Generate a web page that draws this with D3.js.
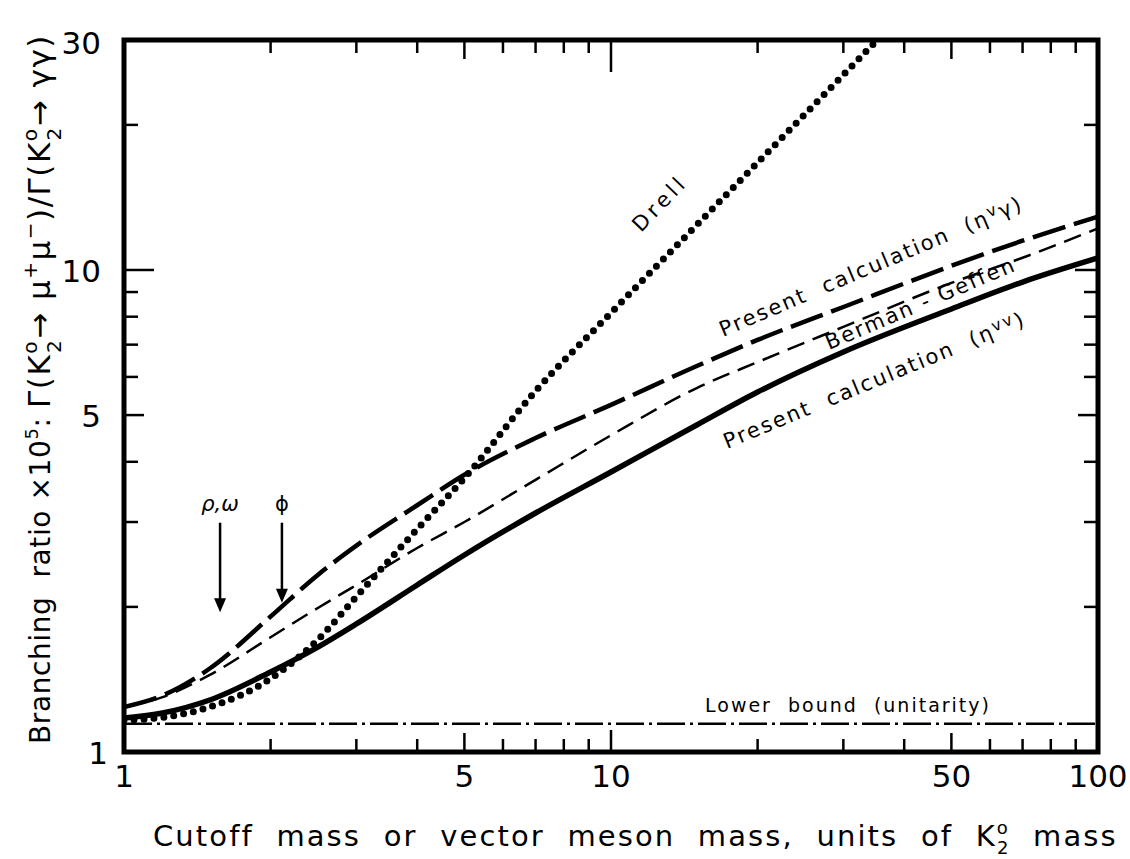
<!DOCTYPE html>
<html><head><meta charset="utf-8">
<script src="https://cdn.jsdelivr.net/npm/d3@7"></script>
<style>
body{margin:0;background:#fff;}
svg{display:block;}
text{font-family:"DejaVu Sans",sans-serif;fill:#000;white-space:pre;}
</style></head><body>
<svg id="chart" width="1130" height="859"></svg>
<script>
// ---- data ----
const massX = [1,1.2,1.5,2,2.5,3,4,5,7,10,15,20,30,50,70,100];
const presentVV     = [1.176,1.205,1.282,1.466,1.651,1.844,2.221,2.563,3.132,3.810,4.769,5.582,6.760,8.30,9.44,10.59];
const presentVGamma = [1.24,1.31,1.49,1.91,2.33,2.68,3.25,3.76,4.48,5.25,6.32,7.16,8.38,10.2,11.5,12.9];
const bermanGeffen  = [1.24,1.30,1.445,1.73,1.99,2.22,2.65,3.00,3.67,4.54,5.69,6.44,7.62,9.40,10.6,12.2];
const drellX = [1,1.2,1.5,2,2.5,3,4,5,7,10,15,20,30,35.2];
const drellY = [1.165,1.18,1.24,1.42,1.71,2.10,2.90,3.70,5.61,8.15,12.4,16.7,25.4,30];
const lowerBound = 1.145;
const xTickLabels = [1,5,10,50,100];
const yTickLabels = [1,5,10,30];
const xMinorTicks = [2,3,4,6,7,8,9,20,30,40,60,70,80,90];
const yMinorTicks = [2,3,4,6,7,8,9,20];
const mesonNames = ["ρ,ω","ϕ"];
const mesonMass  = [1.575,2.11];
const arrowTop   = [2.99,2.99];
const arrowTip   = [1.95,2.04];

// ---- layout ----
const svg = d3.select("#chart");
const L=124, R=1098, T=40, B=752;
const x = d3.scaleLog().domain([1,100]).range([L,R]);
const y = d3.scaleLog().domain([1,30]).range([B,T]);

svg.append("defs").append("clipPath").attr("id","plot")
  .append("rect").attr("x",L).attr("y",T).attr("width",R-L).attr("height",B-T);

const g = svg.append("g").attr("clip-path","url(#plot)");
const line = d3.line().x(d=>x(d[0])).y(d=>y(d[1])).curve(d3.curveMonotoneX);

// lower bound
g.append("path").datum([[1,lowerBound],[100,lowerBound]]).attr("d",line)
  .attr("fill","none").attr("stroke","#000").attr("stroke-width",2.5)
  .attr("stroke-dasharray","28 5 3 5");

// Berman-Geffen thin dashed
g.append("path").datum(massX.map((m,i)=>[m,bermanGeffen[i]])).attr("d",line)
  .attr("fill","none").attr("stroke","#000").attr("stroke-width",2.5)
  .attr("stroke-dasharray","18 9");

// present (eta v gamma) long dashed
g.append("path").datum(massX.map((m,i)=>[m,presentVGamma[i]])).attr("d",line)
  .attr("fill","none").attr("stroke","#000").attr("stroke-width",4.5)
  .attr("stroke-dasharray","34 9");

// present (eta v v) solid
g.append("path").datum(massX.map((m,i)=>[m,presentVV[i]])).attr("d",line)
  .attr("fill","none").attr("stroke","#000").attr("stroke-width",5.5)
  .attr("stroke-linecap","round");

// Drell dotted
g.append("path").datum(drellX.map((m,i)=>[m,drellY[i]])).attr("d",line)
  .attr("fill","none").attr("stroke","#000").attr("stroke-width",7)
  .attr("stroke-dasharray","0 10").attr("stroke-linecap","round");

// ---- frame ----
svg.append("rect").attr("x",L).attr("y",T).attr("width",R-L).attr("height",B-T)
  .attr("fill","none").attr("stroke","#000").attr("stroke-width",5);

// ---- ticks ----
const tk = svg.append("g").attr("stroke","#000").attr("stroke-width",2.5);
function xLen(v, side){ if(v===10) return side==="top"?32:22; if(v===5||v===50) return 19; return 13; }
function yLen(v, side){ if(v===10) return side==="left"?30:23; if(v===5) return 20; return 14; }
const xAll = xMinorTicks.concat([5,10,50]);
const yAll = yMinorTicks.concat([5,10]);
tk.selectAll(".xb").data(xAll).join("line").attr("x1",d=>x(d)).attr("x2",d=>x(d))
  .attr("y1",B).attr("y2",d=>B-xLen(d,"bottom"));
tk.selectAll(".xt").data(xAll).join("line").attr("x1",d=>x(d)).attr("x2",d=>x(d))
  .attr("y1",T).attr("y2",d=>T+xLen(d,"top"));
tk.selectAll(".yl").data(yAll).join("line").attr("y1",d=>y(d)).attr("y2",d=>y(d))
  .attr("x1",L).attr("x2",d=>L+yLen(d,"left"));
tk.selectAll(".yr").data(yAll).join("line").attr("y1",d=>y(d)).attr("y2",d=>y(d))
  .attr("x1",R).attr("x2",d=>R-yLen(d,"right"));

// ---- tick labels ----
svg.append("g").selectAll("text").data(xTickLabels).join("text")
  .attr("x",d=>x(d)).attr("y",787).attr("text-anchor","middle")
  .attr("font-size",31).text(d=>d);
svg.append("g").selectAll("text").data(yTickLabels).join("text")
  .attr("x",d=>d===1?108:101).attr("y",d=>y(d)+ (d===30?14:12)).attr("text-anchor","end")
  .attr("font-size",31).text(d=>d);

// ---- axis titles ----
const xt = svg.append("text").attr("x",153).attr("y",846).attr("font-size",29)
  .attr("letter-spacing",2.1);
xt.append("tspan").text("Cutoff  mass  or  vector  meson  mass,  units  of  K");
xt.append("tspan").attr("font-size",18).attr("dy",-12).text("o");
xt.append("tspan").attr("font-size",18).attr("dx",-13).attr("dy",20).text("2");
xt.append("tspan").attr("dy",-8).text("  mass");

const yt = svg.append("text").attr("transform","translate(50,744) rotate(-90)")
  .attr("font-size",28).attr("letter-spacing",0.6);
yt.append("tspan").text("Branching  ratio ×10");
yt.append("tspan").attr("font-size",18).attr("dy",-12).text("5");
yt.append("tspan").attr("dy",12).text(": ");
const yt2 = yt.append("tspan").attr("font-size",31).attr("letter-spacing",1.5);
yt2.append("tspan").text("Γ(K");
yt2.append("tspan").attr("font-size",20).attr("dy",-13).text("o");
yt2.append("tspan").attr("font-size",20).attr("dx",-13).attr("dy",24).text("2");
yt2.append("tspan").attr("dy",-11).text("→ μ");
yt2.append("tspan").attr("font-size",20).attr("dy",-13).text("+");
yt2.append("tspan").attr("dy",13).text("μ");
yt2.append("tspan").attr("font-size",20).attr("dy",-13).text("−");
yt2.append("tspan").attr("dy",13).text(")/Γ(K");
yt2.append("tspan").attr("font-size",20).attr("dy",-13).text("o");
yt2.append("tspan").attr("font-size",20).attr("dx",-13).attr("dy",24).text("2");
yt2.append("tspan").attr("dy",-11).text("→ γγ)");

// ---- curve labels ----
function rotLabel(px,py,ang,size,ls){
  return svg.append("text").attr("transform",`translate(${px},${py}) rotate(${ang})`)
    .attr("font-size",size).attr("letter-spacing",ls);
}
rotLabel(641,233,-46,21,4).text("Drell");
const l1 = rotLabel(723,337,-23,21,2.1);
l1.append("tspan").text("Present  calculation  (η");
l1.append("tspan").attr("dy",-6).attr("font-size",16).text("v");
l1.append("tspan").attr("dy",6).text("γ)");
rotLabel(829,350,-23,21,2.1).text("Berman - Geffen");
const l2 = rotLabel(727,449,-22.5,21,2.1);
l2.append("tspan").text("Present  calculation  (η");
l2.append("tspan").attr("dy",-6).attr("font-size",16).text("vv");
l2.append("tspan").attr("dy",6).text(")");
svg.append("text").attr("x",848).attr("y",712).attr("text-anchor","middle")
  .attr("font-size",19).attr("letter-spacing",2).text("Lower  bound  (unitarity)");

// ---- meson arrows ----
const ar = svg.append("g");
mesonMass.forEach((m,i)=>{
  const px=x(m), yTop=y(arrowTop[i]), yTipp=y(arrowTip[i]);
  ar.append("line").attr("x1",px).attr("x2",px).attr("y1",yTop).attr("y2",yTipp-10)
    .attr("stroke","#000").attr("stroke-width",2.5);
  ar.append("path").attr("d",`M${px-6},${yTipp-14} L${px+6},${yTipp-14} L${px},${yTipp} Z`)
    .attr("fill","#000");
  ar.append("text").attr("x",px).attr("y",yTop-12).attr("text-anchor","middle")
    .attr("font-size",21).attr("font-style",i===0?"italic":"normal").text(mesonNames[i]);
});
</script>
</body></html>
